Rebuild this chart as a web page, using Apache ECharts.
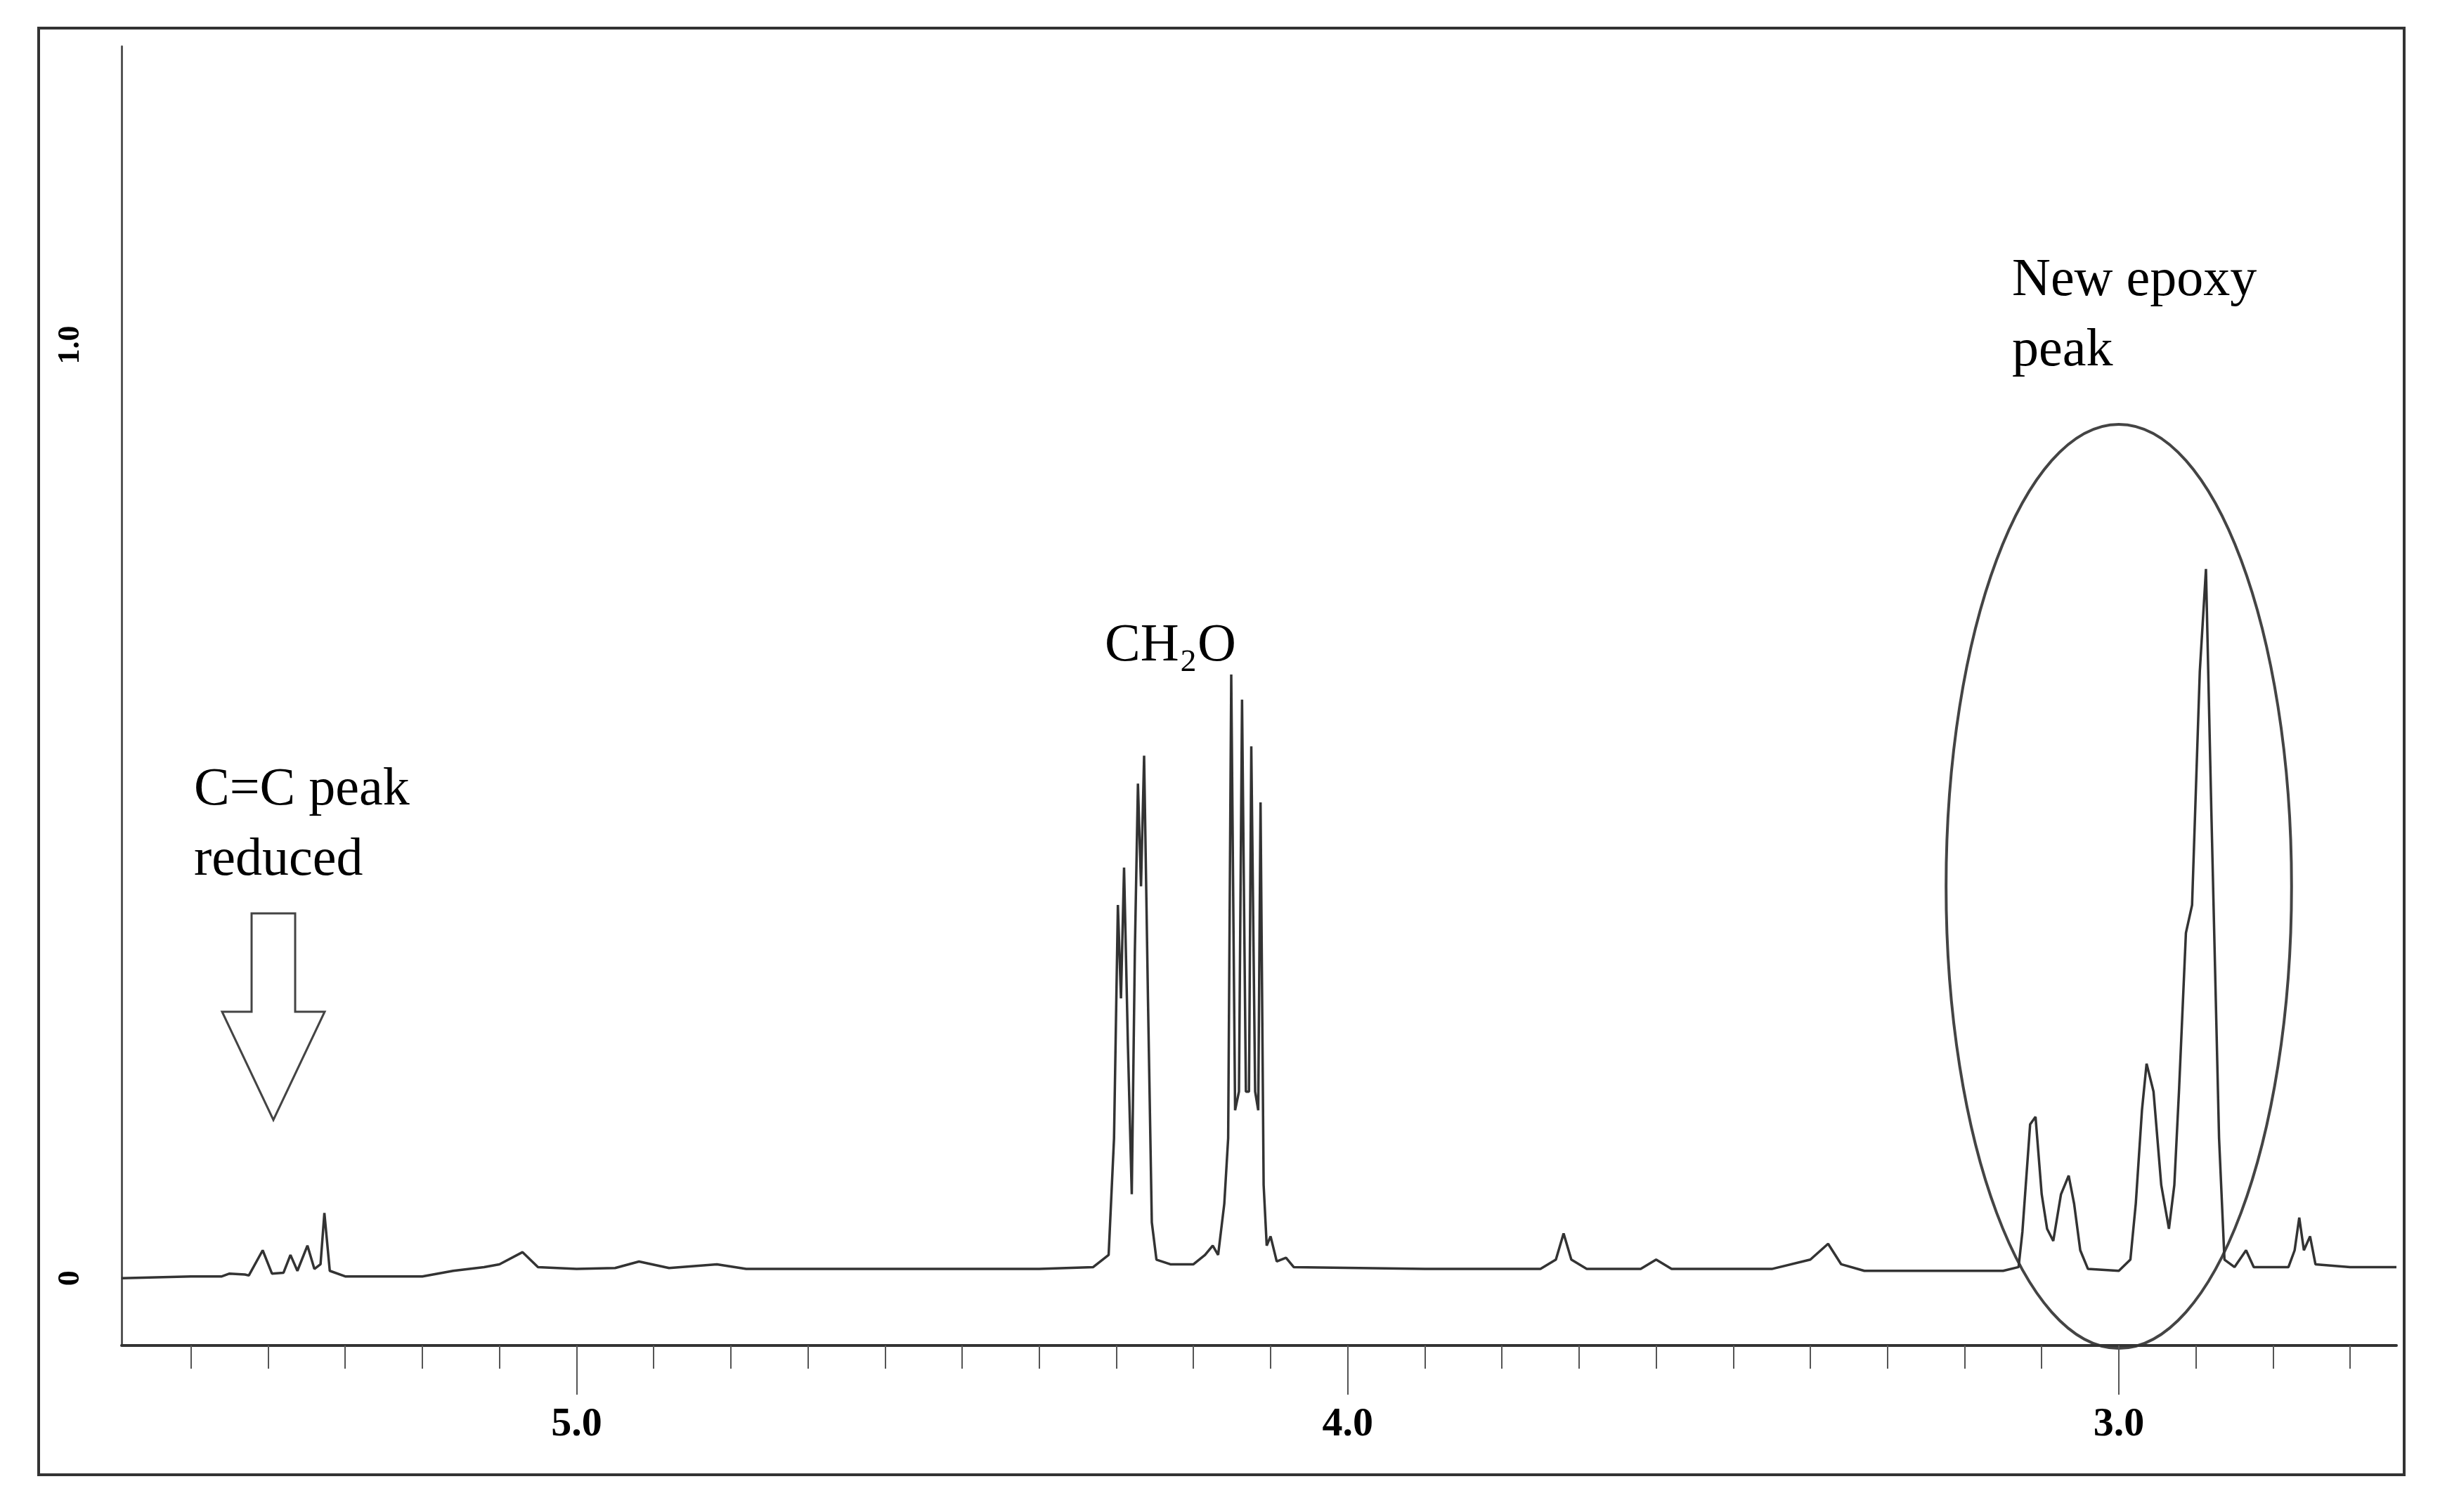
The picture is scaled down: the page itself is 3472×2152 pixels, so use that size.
<!DOCTYPE html>
<html>
<head>
<meta charset="utf-8">
<script src="https://cdn.jsdelivr.net/npm/echarts@6/dist/echarts.min.js"></script>
<style>html,body{margin:0;background:#fff}#chart{width:3472px;height:2152px}</style>
</head>
<body>
<div id="chart"></div>
<script>
// chemical shift (ppm) and relative intensity
var ppm = [5.59, 5.50, 5.46, 5.45, 5.43, 5.425, 5.407, 5.395, 5.380, 5.371, 5.362, 5.349, 5.340, 5.332, 5.327, 5.320, 5.30, 5.20, 5.16, 5.12, 5.10,
    5.07, 5.05, 5.00, 4.95, 4.919, 4.88, 4.818, 4.78, 4.50, 4.40, 4.33, 4.31, 4.303, 4.298, 4.294, 4.290, 4.285, 4.280, 4.276, 4.272,
    4.268, 4.264, 4.259, 4.254, 4.248, 4.23, 4.20, 4.185, 4.175, 4.168, 4.160, 4.155, 4.151, 4.146, 4.141, 4.137, 4.132, 4.128, 4.125,
    4.120, 4.116, 4.113, 4.109, 4.105, 4.100, 4.092, 4.080, 4.070, 3.90, 3.75, 3.73, 3.72, 3.71, 3.69, 3.62, 3.60, 3.58, 3.45, 3.40,
    3.377, 3.36, 3.33, 3.15, 3.13, 3.125, 3.115, 3.108, 3.100, 3.093, 3.085, 3.075, 3.065, 3.058, 3.050, 3.040, 3.000, 2.985, 2.978,
    2.970, 2.964, 2.955, 2.945, 2.935, 2.928, 2.922, 2.913, 2.905, 2.895, 2.887, 2.880, 2.870, 2.863, 2.850, 2.835, 2.825, 2.78,
    2.772, 2.766, 2.760, 2.752, 2.745, 2.70, 2.64];
var intensity = [0.000, 0.002, 0.002, 0.005, 0.004, 0.003, 0.030, 0.005, 0.006, 0.025, 0.008, 0.035, 0.010, 0.015, 0.070, 0.008, 0.002, 0.002, 0.008, 0.012, 0.015,
    0.028, 0.012, 0.010, 0.011, 0.018, 0.011, 0.015, 0.010, 0.010, 0.010, 0.012, 0.025, 0.15, 0.40, 0.30, 0.44, 0.25, 0.09, 0.35, 0.53,
    0.42, 0.56, 0.30, 0.06, 0.020, 0.015, 0.015, 0.025, 0.035, 0.025, 0.08, 0.15, 0.647, 0.18, 0.20, 0.62, 0.20, 0.20, 0.57,
    0.20, 0.18, 0.51, 0.10, 0.035, 0.045, 0.018, 0.022, 0.012, 0.010, 0.010, 0.020, 0.048, 0.020, 0.010, 0.010, 0.020, 0.010, 0.010, 0.020,
    0.037, 0.015, 0.008, 0.008, 0.012, 0.05, 0.165, 0.173, 0.090, 0.053, 0.040, 0.090, 0.11, 0.08, 0.03, 0.010, 0.008, 0.020, 0.080,
    0.18, 0.230, 0.20, 0.10, 0.053, 0.10, 0.20, 0.37, 0.40, 0.65, 0.760, 0.50, 0.15, 0.020, 0.012, 0.030, 0.012, 0.012,
    0.030, 0.065, 0.030, 0.045, 0.015, 0.012, 0.012];
var minorTicks = [2.7, 2.8, 2.9, 3.0, 3.1, 3.2, 3.3, 3.4, 3.5, 3.6, 3.7, 3.8, 3.9, 4.0, 4.1, 4.2, 4.3, 4.4, 4.5, 4.6, 4.7, 4.8, 4.9, 5.0, 5.1, 5.2, 5.3, 5.4, 5.5];
var majorTicks = [3.0, 4.0, 5.0];
var yTicks = [0, 1.0];

var chart = echarts.init(document.getElementById('chart'));
var font = '"Liberation Serif", "Times New Roman", serif';
var xRange = { min: 2.64, max: 5.59 };

var option = {
    animation: false,
    grid: { left: 173, right: 62, top: 66, bottom: 237 },
    xAxis: [{
        type: 'value', inverse: true, min: xRange.min, max: xRange.max, position: 'bottom',
        axisLine: { onZero: false, lineStyle: { color: '#333', width: 4 } },
        axisTick: { customValues: minorTicks, length: 33, lineStyle: { color: '#555', width: 2 } },
        axisLabel: { show: false }, splitLine: { show: false }
    }, {
        type: 'value', inverse: true, min: xRange.min, max: xRange.max, position: 'bottom',
        axisLine: { show: false, onZero: false },
        axisTick: { customValues: majorTicks, length: 70, lineStyle: { color: '#555', width: 2 } },
        axisLabel: {
            customValues: majorTicks, margin: 84, fontFamily: font, fontWeight: 'bold', fontSize: 58, color: '#000',
            formatter: function (v) { return v.toFixed(1); }
        },
        splitLine: { show: false }
    }],
    yAxis: {
        type: 'value', min: -0.072, max: 1.32,
        axisLine: { show: true, lineStyle: { color: '#555', width: 3 } },
        axisTick: { show: false },
        axisLabel: {
            customValues: yTicks, rotate: 90, margin: 50, fontFamily: font, fontWeight: 'bold', fontSize: 44, color: '#000',
            formatter: function (v) { return v === 0 ? '0' : v.toFixed(1); }
        },
        splitLine: { show: false }
    },
    series: [{
        type: 'line', xAxisIndex: 0, showSymbol: false, smooth: false,
        lineStyle: { color: '#333', width: 3.5 },
        data: ppm.map(function (p, i) { return [p, intensity[i]]; })
    }]
};
chart.setOption(option);

// annotations placed from data coordinates
function px(x, y) { return chart.convertToPixel({ xAxisIndex: 0, yAxisIndex: 0 }, [x, y]); }
var c = px(3.0, 0.42);
var ry = px(3.0, 0.42)[1] - px(3.0, -0.075)[1];
var rx = px(3.0, 0)[0] - px(3.224, 0)[0];
var tf = { fontFamily: font, fontSize: 76, fill: '#000', lineHeight: 100 };
chart.setOption({
    graphic: [
        { type: 'rect', shape: { x: 55, y: 40, width: 3366, height: 2059 }, style: { fill: 'none', stroke: '#333', lineWidth: 4 } },
        { type: 'ellipse', shape: { cx: c[0], cy: c[1], rx: Math.abs(rx), ry: Math.abs(ry) }, style: { fill: 'none', stroke: '#444', lineWidth: 4 } },
        { type: 'polygon', shape: { points: [[358, 1300], [420, 1300], [420, 1440], [462, 1440], [389, 1594], [316, 1440], [358, 1440]] },
          style: { fill: '#fff', stroke: '#444', lineWidth: 3 } },
        { type: 'text', left: 276, top: 1075, style: Object.assign({ text: 'C=C peak\nreduced' }, tf) },
        { type: 'text', left: 1572, top: 870, style: Object.assign({ text: 'CH\u2082O' }, tf) },
        { type: 'text', left: 2863, top: 350, style: Object.assign({ text: 'New epoxy\npeak' }, tf) }
    ]
});
</script>
</body>
</html>
